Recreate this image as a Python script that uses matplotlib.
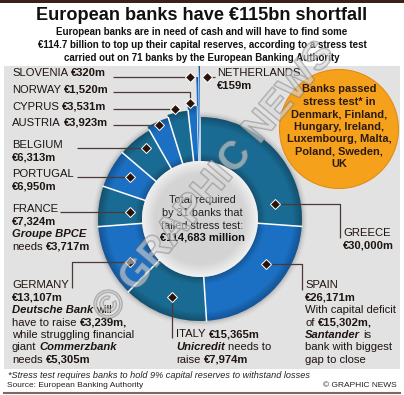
import numpy as np
import matplotlib
matplotlib.use('Agg')
import matplotlib.pyplot as plt
from matplotlib.patches import Wedge, Circle, Rectangle
import matplotlib.patheffects as pe

# ── Data ──────────────────────────────────────────────────────────────────────
countries = ['GREECE', 'SPAIN', 'ITALY', 'GERMANY', 'FRANCE', 'PORTUGAL',
             'BELGIUM', 'AUSTRIA', 'CYPRUS', 'NORWAY', 'SLOVENIA', 'NETHERLANDS']
shortfall = [30000, 26171, 15365, 13107, 7324, 6950, 6313, 3923, 3531, 1520, 320, 159]  # €m
banks_tested = 71
banks_failed = 31
passed = ['Denmark', 'Finland', 'Hungary', 'Ireland', 'Luxembourg', 'Malta',
          'Poland', 'Sweden', 'UK']
bank_names = ['Groupe BPCE', 'Deutsche Bank', 'Commerzbank', 'Unicredit', 'Santander']
bank_needs = [3717, 3239, 5305, 7974, 15302]  # €m

total = sum(shortfall)
val = dict(zip(countries, shortfall))
need = dict(zip(bank_names, bank_needs))


def eur(v):
    return f'€{v:,}m'


# ── Style / layout ────────────────────────────────────────────────────────────
W, H = 404, 395
FONT = 'Liberation Sans'
TEAL, BLUE = '#1a6b93', '#1c70c4'
seg_colors = [TEAL, BLUE, TEAL, BLUE, TEAL, BLUE, TEAL, BLUE, TEAL, BLUE, BLUE, BLUE]
CX, CY = 200, 219
R_IN, R_OUT = 58, 102
seg_rout = [R_OUT] * 7 + [106, 109, 113, 142, 153]
INK = '#1e1410'
LINE = '#4a3a34'
FS = 8.1

fig = plt.figure(figsize=(W / 100, H / 100), dpi=100)
ax = fig.add_axes([0, 0, 1, 1])
ax.set_xlim(0, W)
ax.set_ylim(H, 0)
ax.axis('off')
renderer = fig.canvas.get_renderer()


def R(s): return (s, 'normal', 'normal')
def B(s): return (s, 'bold', 'normal')
def BI(s): return (s, 'bold', 'italic')


def rich(x, y, parts, size=FS):
    gap = 0.28 * size * 100 / 72
    for txt, w, st in parts:
        t = ax.text(x, y, txt, fontsize=size, fontweight=w, fontstyle=st,
                    family=FONT, color=INK, ha='left', va='center', zorder=8)
        x += t.get_window_extent(renderer).width + gap
    return x


def fit_size(s, width, size=12, weight='bold'):
    t = ax.text(0, 0, s, fontsize=size, fontweight=weight, family=FONT)
    w = t.get_window_extent(renderer).width
    t.remove()
    return size * width / w


# ── Background ────────────────────────────────────────────────────────────────
ax.add_patch(Rectangle((0, 0), W, 3, fc='#3a2216', lw=0, zorder=0))
ax.add_patch(Rectangle((4, 66), 396, 303, fc='#e2e2e2', lw=0, zorder=0))
ax.plot([4, 400], [393, 393], color='#7a6a60', lw=1.5, zorder=0)

# ── Title block ───────────────────────────────────────────────────────────────
title = f'European banks have €{round(total / 1000)}bn shortfall'
ax.text(W / 2, 15, title, family=FONT, fontweight='bold',
        fontsize=fit_size(title, 328), color='#111111', ha='center', va='center')
sub = ['European banks are in need of cash and will have to find some',
       f'€{total / 1000:.1f} billion to top up their capital reserves, according to a stress test',
       f'carried out on {banks_tested} banks by the European Banking Authority']
sub_fs = fit_size(sub[1], 326)
for i, s in enumerate(sub):
    ax.text(W / 2, 32 + i * 12.8, s, family=FONT, fontweight='bold',
            fontsize=sub_fs, color='#111111', ha='center', va='center')

# ── Ring ──────────────────────────────────────────────────────────────────────
cum = np.concatenate([[0], np.cumsum(shortfall)]) / total * 360
c0s, c1s = cum[:-1], cum[1:]

for dr, a in [(5, .04), (3, .06), (1.5, .08)]:
    ax.add_patch(Circle((CX, CY), R_OUT + dr, fc='black', alpha=a, lw=0, zorder=1))

for c0, c1, ro, col in zip(c0s, c1s, seg_rout, seg_colors):
    ax.add_patch(Wedge((CX, CY), ro, c0 - 90, c1 - 90, width=ro - R_IN,
                       fc=col, lw=0, zorder=2))
    for k in range(1, 7):
        ax.add_patch(Wedge((CX, CY), ro, c0 - 90, c1 - 90, width=k * 1.4,
                           fc='black', alpha=.04, lw=0, zorder=3))
        ax.add_patch(Wedge((CX, CY), R_IN + k * 1.2, c0 - 90, c1 - 90, width=k * 1.2,
                           fc='black', alpha=.035, lw=0, zorder=3))

for i, c in enumerate(c0s):
    r_top = min(seg_rout[i], seg_rout[i - 1])
    a = np.radians(c)
    lw = 1.1 if seg_rout[i] <= 113 and seg_rout[i - 1] <= 113 else 0.5
    ax.plot([CX + R_IN * np.sin(a), CX + r_top * np.sin(a)],
            [CY - R_IN * np.cos(a), CY - r_top * np.cos(a)],
            color='white', lw=lw, zorder=4)

# inner disc with light rim
n = 200
yy, xx = np.mgrid[-1:1:n * 1j, -1:1:n * 1j]
rr = np.hypot(xx, yy)
disc = 0.83 + 0.11 * np.clip((rr - 0.78) / 0.22, 0, 1)
im = ax.imshow(disc, cmap='gray', vmin=0, vmax=1, interpolation='bilinear',
               extent=(CX - R_IN, CX + R_IN, CY + R_IN, CY - R_IN), zorder=3)
im.set_clip_path(Circle((CX, CY), R_IN, transform=ax.transData))

centre = ['Total required', f'by {banks_failed} banks that', 'failed stress test:']
for i, s in enumerate(centre):
    ax.text(CX + 2, 200 + i * 12.8, s, family=FONT, fontsize=7.8, color='#222222',
            ha='center', va='center', zorder=8)
ax.text(CX + 2, 238, f'€{total:,} million', family=FONT, fontsize=8,
        fontweight='bold', color='#111111', ha='center', va='center', zorder=8)

# ── Passed-test bubble ────────────────────────────────────────────────────────
ax.add_patch(Circle((339, 129), 59.5, fc='#f5a11c', ec='#e38c12', lw=0.8, zorder=5))
pairs = [passed[i:i + 2] for i in range(0, len(passed), 2)]
bubble = ['Banks passed', 'stress test* in'] + \
         [', '.join(p) + (',' if j < len(pairs) - 1 else '') for j, p in enumerate(pairs)]
for i, s in enumerate(bubble):
    ax.text(339, 89.3 + i * 12.45, s, family=FONT, fontweight='bold', fontsize=7.9,
            color='#2b1a10', ha='center', va='center', zorder=8)

# ── Leaders ───────────────────────────────────────────────────────────────────
anchors = {  # position of each diamond: fraction along segment, radius, x nudge
    'GREECE': (.836, 76.5, 0), 'SPAIN': (.369, 80, 0), 'ITALY': (.49, 83, 0),
    'GERMANY': (.336, 82, 0), 'FRANCE': (.435, 70.3, 0), 'PORTUGAL': (.56, 81.6, 0),
    'BELGIUM': (.61, 89, 0), 'AUSTRIA': (.49, 102.5, 0), 'CYPRUS': (.41, 112.8, 0),
    'NORWAY': (.29, 116.4, 0), 'SLOVENIA': (.5, 142, -7.5), 'NETHERLANDS': (.5, 142, 7.6),
}


def anchor(name):
    i = countries.index(name)
    f, r, dx = anchors[name]
    a = np.radians(c0s[i] + f * (c1s[i] - c0s[i]))
    return CX + r * np.sin(a) + dx, CY - r * np.cos(a)


def leader(name, xs, ys):
    x, y = anchor(name)
    xs = [x if v is None else v for v in xs]
    ys = [y if v is None else v for v in ys]
    ax.plot(xs, ys, color=LINE, lw=0.9, zorder=6, solid_capstyle='butt')
    ax.plot(x, y, marker='D', ms=5, mfc='#2a1208', mec='white', mew=0.7, zorder=7)


for name in ['SLOVENIA', 'CYPRUS', 'AUSTRIA']:
    leader(name, [113, None], [None, None])
leader('NORWAY', [113, None, None], [92.3, 92.3, None])
leader('BELGIUM', [77, None], [None, None])
leader('PORTUGAL', [77, None], [None, None])
leader('FRANCE', [60, None], [None, None])
leader('GERMANY', [None, 72, 72], [None, None, 288])
leader('ITALY', [None, None], [None, 338])
leader('SPAIN', [None, 302, 302], [None, None, 290])
leader('GREECE', [None, 340, 340], [None, None, 238])
leader('NETHERLANDS', [None, 215], [None, None])

# ── Labels ────────────────────────────────────────────────────────────────────
for name, y in [('SLOVENIA', 73.3), ('NORWAY', 90), ('CYPRUS', 106.7), ('AUSTRIA', 122.7)]:
    rich(12, y, [R(name), B(eur(val[name]))])
for name, y in [('BELGIUM', 145), ('PORTUGAL', 174), ('FRANCE', 209)]:
    rich(12, y, [R(name)])
    rich(12, y + 12.4, [B(eur(val[name]))])
rich(12, 234, [BI('Groupe BPCE')])
rich(12, 246.7, [R('needs'), B(eur(need['Groupe BPCE']))])

germany = [[R('GERMANY')], [B(eur(val['GERMANY']))],
           [BI('Deutsche Bank'), R('will')],
           [R('have to raise'), B(eur(need['Deutsche Bank']) + ',')],
           [R('while struggling financial')],
           [R('giant'), BI('Commerzbank')],
           [R('needs'), B(eur(need['Commerzbank']))]]
spain = [[R('SPAIN')], [B(eur(val['SPAIN']))], [R('With capital deficit')],
         [R('of'), B(eur(need['Santander']) + ',')],
         [BI('Santander'), R('is')], [R('bank with biggest')], [R('gap to close')]]
for i, (g, s) in enumerate(zip(germany, spain)):
    rich(12, 285 + i * 12.5, g)
    rich(305, 285 + i * 12.5, s)

italy = [[R('ITALY'), B(eur(val['ITALY']))],
         [BI('Unicredit'), R('needs to')],
         [R('raise'), B(eur(need['Unicredit']))]]
for i, p in enumerate(italy):
    rich(176, 334.3 + i * 12.8, p)

rich(343, 233.3, [R('GREECE')])
rich(343, 246, [B(eur(val['GREECE']))])
rich(217, 73.3, [R('NETHERLANDS')])
rich(217, 86, [B(eur(val['NETHERLANDS']))])

# ── Footer ────────────────────────────────────────────────────────────────────
ax.text(8, 375, '*Stress test requires banks to hold 9% capital reserves to withstand losses',
        family=FONT, fontstyle='italic', fontsize=6.6, color='#222222', va='center')
ax.text(7, 385.7, 'Source: European Banking Authority', family=FONT, fontsize=6,
        color='#222222', va='center')
ax.text(397, 385.7, '© GRAPHIC NEWS', family=FONT, fontsize=6, color='#222222',
        ha='right', va='center')

# watermark
ax.text(214, 182, '© GRAPHIC NEWS', family=FONT, fontweight='bold', fontsize=28.5,
        rotation=50, ha='center', va='center', rotation_mode='anchor',
        color=(0.85, 0.85, 0.85, 0.35), zorder=9,
        path_effects=[pe.Stroke(linewidth=1.1, foreground=(0.4, 0.4, 0.4, 0.45)), pe.Normal()])

ax.set_xlim(0, W)
ax.set_ylim(H, 0)
ax.set_aspect('auto')
fig.savefig('out.png', dpi=100, facecolor='white')
